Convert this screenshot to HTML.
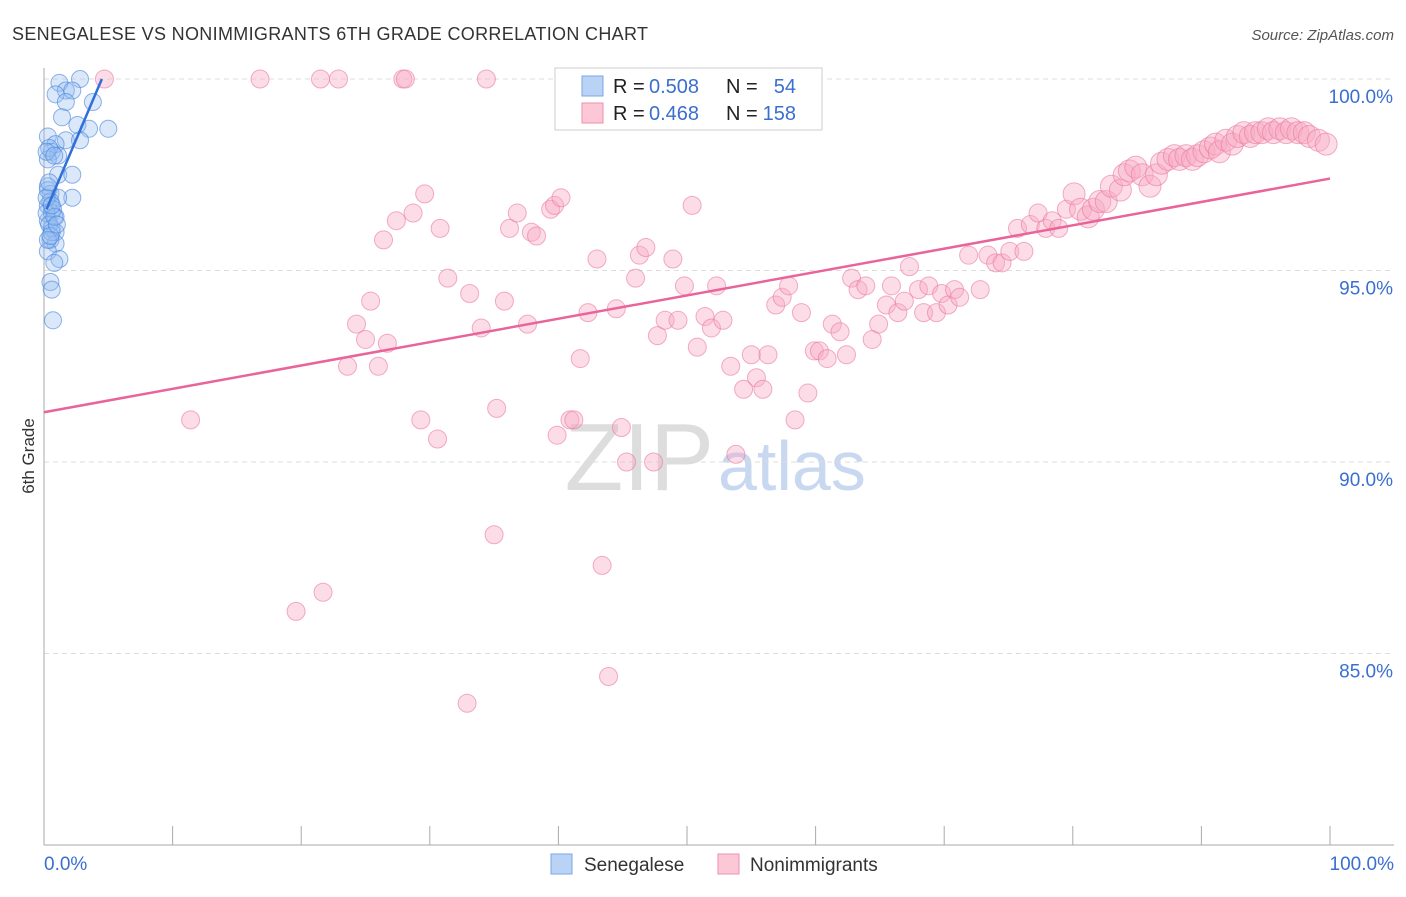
<!DOCTYPE html>
<html><head><meta charset="utf-8"><style>
body{margin:0;background:#fff;font-family:"Liberation Sans",sans-serif}
svg text{font-family:"Liberation Sans",sans-serif}
</style></head><body>
<svg id="chart" width="1406" height="892">
<text x="12" y="40" font-size="18" fill="#333" textLength="636">SENEGALESE VS NONIMMIGRANTS 6TH GRADE CORRELATION CHART</text>
<text x="1394" y="40" font-size="15" fill="#555" text-anchor="end" font-style="italic">Source: ZipAtlas.com</text>
<text x="34" y="456" font-size="17" fill="#333" text-anchor="middle" transform="rotate(-90 34 456)">6th Grade</text>
<text x="714" y="490" font-size="96" fill="#ddd" text-anchor="end" font-family="Liberation Serif">ZIP</text>
<text x="718" y="490" font-size="70" fill="#c8d8f0">atlas</text>
<g id="grid"></g><g id="pink"></g><g id="blue"></g><g id="lines"></g>
<g>
<rect x="555" y="68" width="267" height="62" fill="#fff" stroke="#ccc"/>
<rect x="582" y="76" width="21" height="20" fill="#b9d3f5" stroke="#7aa6e6"/>
<rect x="582" y="103" width="21" height="20" fill="#fcc8d7" stroke="#ee90ad"/>
<text x="613" y="93" font-size="20" fill="#222">R =</text>
<text x="649" y="93" font-size="20" fill="#3a6fd0">0.508</text>
<text x="726" y="93" font-size="20" fill="#222">N =</text>
<text x="796" y="93" font-size="20" fill="#3a6fd0" text-anchor="end">54</text>
<text x="613" y="120" font-size="20" fill="#222">R =</text>
<text x="649" y="120" font-size="20" fill="#3a6fd0">0.468</text>
<text x="726" y="120" font-size="20" fill="#222">N =</text>
<text x="796" y="120" font-size="20" fill="#3a6fd0" text-anchor="end">158</text>
</g>
<rect x="551" y="854" width="21" height="20" fill="#b9d3f5" stroke="#7aa6e6"/>
<text x="584" y="871" font-size="19" fill="#333">Senegalese</text>
<rect x="718" y="854" width="21" height="20" fill="#fcc8d7" stroke="#ee90ad"/>
<text x="750" y="871" font-size="19" fill="#333">Nonimmigrants</text>
</svg>
<script>
const yTicks=[100,95,90,85];
const yTickLabels=["100.0%","95.0%","90.0%","85.0%"];
const xTickCount=10;
const xLabels=["0.0%","100.0%"];
const blueX=[1.2,2.8,1.7,0.9,2.2,1.7,3.8,1.4,2.6,3.5,5.0,0.3,1.7,2.8,0.9,0.6,1.1,0.3,1.1,2.2,0.3,0.5,2.2,1.1,0.3,0.6,0.9,0.3,0.6,0.9,0.5,0.9,0.3,1.2,0.8,0.5,0.6,0.7,0.4,0.2,0.8,0.3,0.5,0.7,0.2,0.4,0.6,0.3,0.5,0.8,0.2,0.4,0.6,1.0];
const blueY=[99.9,100,99.7,99.6,99.7,99.4,99.4,99.0,98.8,98.7,98.7,98.5,98.4,98.4,98.3,98.1,98.0,97.9,97.5,97.5,97.2,97.0,96.9,96.9,96.7,96.5,96.4,96.3,96.1,96.0,95.8,95.7,95.5,95.3,95.2,94.7,94.5,93.7,98.2,98.1,98.0,97.1,96.8,96.6,96.5,96.2,96.0,95.8,95.9,96.4,96.9,97.3,96.7,96.2];
const pinkX=[4.7,16.8,21.5,22.9,27.9,28.1,34.4,11.4,19.6,21.7,32.9,43.9,35.0,43.4,23.6,24.3,25.0,25.4,26.0,26.4,26.7,27.4,28.7,29.3,29.6,30.6,30.8,31.4,33.1,34.0,35.2,35.8,36.2,36.8,37.6,37.9,38.3,39.4,39.7,39.9,40.2,40.9,41.2,41.7,42.3,43.0,44.5,44.9,45.3,46.0,46.3,46.8,47.4,47.7,48.3,48.9,49.3,49.8,50.4,50.8,51.4,51.9,52.3,52.8,53.4,53.8,54.4,55.0,55.4,55.9,56.3,56.9,57.4,57.9,58.4,58.9,59.4,59.9,60.3,60.9,61.3,61.9,62.4,62.8,63.3,63.9,64.4,64.9,65.5,65.9,66.4,66.9,67.3,68.0,68.4,68.8,69.4,69.8,70.3,70.8,71.2,71.9,72.8,73.4,74.0,74.5,75.1,75.7,76.2,76.7,77.3,77.9,78.4,78.9,79.5,80.1,80.6,81.2,81.6,82.1,82.6,83.0,83.7,84.0,84.4,84.9,85.4,86.0,86.5,86.9,87.4,87.9,88.3,88.8,89.3,89.7,90.2,90.7,91.1,91.4,91.9,92.4,92.8,93.3,93.8,94.2,94.7,95.2,95.6,96.1,96.6,97.0,97.5,98.0,98.4,99.1,99.7];
const pinkY=[100,100,100,100,100,100,100,91.1,86.1,86.6,83.7,84.4,88.1,87.3,92.5,93.6,93.2,94.2,92.5,95.8,93.1,96.3,96.5,91.1,97.0,90.6,96.1,94.8,94.4,93.5,91.4,94.2,96.1,96.5,93.6,96.0,95.9,96.6,96.7,90.7,96.9,91.1,91.1,92.7,93.9,95.3,94.0,90.9,90.0,94.8,95.4,95.6,90.0,93.3,93.7,95.3,93.7,94.6,96.7,93.0,93.8,93.5,94.6,93.7,92.5,90.2,91.9,92.8,92.2,91.9,92.8,94.1,94.3,94.6,91.1,93.9,91.8,92.9,92.9,92.7,93.6,93.4,92.8,94.8,94.5,94.6,93.2,93.6,94.1,94.6,93.9,94.2,95.1,94.5,93.9,94.6,93.9,94.4,94.1,94.5,94.3,95.4,94.5,95.4,95.2,95.2,95.5,96.1,95.5,96.2,96.5,96.1,96.3,96.1,96.6,97.0,96.6,96.4,96.6,96.8,96.8,97.2,97.1,97.5,97.6,97.7,97.5,97.2,97.5,97.8,97.9,98.0,97.9,98.0,97.9,98.0,98.1,98.2,98.3,98.1,98.4,98.3,98.5,98.6,98.5,98.6,98.6,98.7,98.6,98.7,98.6,98.7,98.6,98.6,98.5,98.4,98.3];
const blueTrendX=[0.2,4.5];
const blueTrendY=[96.6,100];
const pinkTrendX=[0,100];
const pinkTrendY=[91.3,97.4];
const X0=44,X1=1330,YT=79,YB=845;
const sx=v=>X0+(X1-X0)*v/100;
const sy=v=>YT+(100-v)*(YB-YT)/20;
const NS="http://www.w3.org/2000/svg";
function mk(tag,attrs,parent){const e=document.createElementNS(NS,tag);for(const k in attrs)e.setAttribute(k,attrs[k]);document.getElementById(parent).appendChild(e);return e;}
yTicks.forEach((t,i)=>{
 const l=mk('line',{x1:X0,x2:1394,y1:sy(t),y2:sy(t),stroke:'#ddd','stroke-dasharray':'5,4'},'grid');
 
 
 const tx=mk('text',{x:1393,y:sy(t)+24,'font-size':19,fill:'#3a6fd0','text-anchor':'end'},'grid');
 tx.textContent=yTickLabels[i];
 
 
});
const ax=mk('line',{x1:X0,x2:X0,y1:68,y2:YB,stroke:'#aaa'},'grid');


const bx=mk('line',{x1:X0,x2:1394,y1:YB,y2:YB,stroke:'#aaa'},'grid');


for(let i=0;i<=xTickCount;i++){
 const t=mk('line',{x1:sx(i*10),x2:sx(i*10),y1:826,y2:YB,stroke:'#aaa'},'grid');
 
 
}
[[0,'start',X0],[1,'end',1394]].forEach(([i,a,x])=>{
 const t=mk('text',{x:x,y:870,'font-size':19,fill:'#3a6fd0','text-anchor':a},'grid');
 t.textContent=xLabels[i];
 
 
});
pinkX.forEach((v,i)=>{
 const c=mk('circle',{cx:sx(v),cy:sy(pinkY[i]),r:v>80?11:9,fill:'rgba(248,170,195,0.4)',stroke:'rgba(235,120,160,0.6)','stroke-width':1},'pink');
 
 
});
blueX.forEach((v,i)=>{
 const c=mk('circle',{cx:sx(v),cy:sy(blueY[i]),r:8.5,fill:'rgba(150,190,240,0.35)',stroke:'rgba(70,130,220,0.6)','stroke-width':1},'blue');
 
 
});
const pl=mk('line',{x1:sx(pinkTrendX[0]),y1:sy(pinkTrendY[0]),x2:sx(pinkTrendX[1]),y2:sy(pinkTrendY[1]),stroke:'#e8649a','stroke-width':2.5},'lines');


const bl=mk('line',{x1:sx(blueTrendX[0]),y1:sy(blueTrendY[0]),x2:sx(blueTrendX[1]),y2:sy(blueTrendY[1]),stroke:'#2f6fd8','stroke-width':2.5},'lines');


</script>
</body></html>
